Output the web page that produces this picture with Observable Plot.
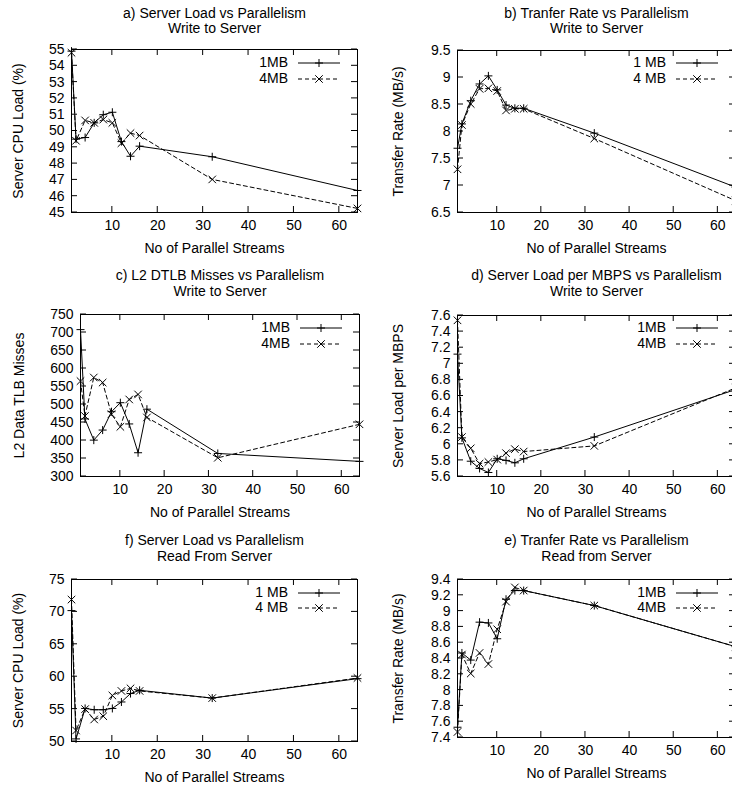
<!DOCTYPE html>
<html><head><meta charset="utf-8">
<script src="https://cdn.jsdelivr.net/npm/d3@7"></script>
<script src="https://cdn.jsdelivr.net/npm/@observablehq/plot@0.6"></script>
<style>
html,body{margin:0;padding:0;background:#fff;}
#fig{position:relative;width:732px;height:788px;overflow:hidden;background:#fff;}
#fig svg{position:absolute;}
</style></head><body><div id="fig"></div>
<script>
// ---- data ----
const streams = [1, 2, 4, 6, 8, 10, 12, 14, 16, 32, 64];
const xTicks = [10, 20, 30, 40, 50, 60];

const loadWrite1MB = [54.9, 49.5, 49.6, 50.5, 51.0, 51.15, 49.35, 48.45, 49.07, 48.42, 46.35];
const loadWrite4MB = [54.8, 49.4, 50.65, 50.5, 50.7, 50.5, 49.25, 49.87, 49.72, 47.03, 45.25];
const loadWriteTicks = [45, 46, 47, 48, 49, 50, 51, 52, 53, 54, 55];

const rateWrite1MB = [7.69, 8.14, 8.57, 8.88, 9.03, 8.77, 8.49, 8.43, 8.43, 7.97, 6.97];
const rateWrite4MB = [7.30, 8.12, 8.51, 8.79, 8.80, 8.75, 8.39, 8.42, 8.42, 7.87, 6.72];
const rateWriteTicks = [6.5, 7, 7.5, 8, 8.5, 9, 9.5];

const dtlbWrite1MB = [708, 460, 401, 429, 480, 505, 446, 366, 487, 364, 342];
const dtlbWrite4MB = [565, 468, 575, 561, 473, 438, 514, 528, 464, 352, 445];
const dtlbWriteTicks = [300, 350, 400, 450, 500, 550, 600, 650, 700, 750];

const perMbps1MB = [7.12, 6.08, 5.79, 5.70, 5.65, 5.82, 5.80, 5.77, 5.82, 6.09, 6.68];
const perMbps4MB = [7.54, 6.09, 5.95, 5.76, 5.78, 5.81, 5.89, 5.94, 5.91, 5.98, 6.70];
const perMbpsTicks = [5.6, 5.8, 6, 6.2, 6.4, 6.6, 6.8, 7, 7.2, 7.4, 7.6];

const loadRead1MB = [70.2, 50.4, 55.1, 54.9, 54.9, 55.1, 56.1, 57.4, 57.9, 56.7, 59.7];
const loadRead4MB = [71.9, 51.7, 55.0, 53.4, 53.9, 57.1, 57.8, 58.2, 57.8, 56.7, 59.8];
const loadReadTicks = [50, 55, 60, 65, 70, 75];

const rateRead1MB = [7.53, 8.47, 8.38, 8.86, 8.85, 8.65, 9.15, 9.26, 9.26, 9.07, 8.55];
const rateRead4MB = [7.47, 8.45, 8.21, 8.47, 8.33, 8.77, 9.12, 9.30, 9.26, 9.07, 8.55];
const rateReadTicks = [7.4, 7.6, 7.8, 8, 8.2, 8.4, 8.6, 8.8, 9, 9.2, 9.4];

const xLabel = "No of Parallel Streams";

// ---- panel layout ----
const panels = [
  {left:0, top:0, width:366, height:262, frame:[71,49,357,212], yDomain:[45,55], yTicks:loadWriteTicks,
   s1:loadWrite1MB, s2:loadWrite4MB, names:["1MB","4MB"],
   title:["a) Server Load vs Parallelism","Write to Server"], titleY:[13,28],
   yLabel:"Server CPU Load (%)", yLabelX:18, legendY:[63,79]},
  {left:366, top:0, width:375, height:262, frame:[457,50,735,212], yDomain:[6.5,9.5], yTicks:rateWriteTicks,
   s1:rateWrite1MB, s2:rateWrite4MB, names:["1 MB","4 MB"],
   title:["b) Tranfer Rate vs Parallelism","Write to Server"], titleY:[13,28],
   yLabel:"Transfer Rate (MB/s)", yLabelX:398, legendY:[63,79]},
  {left:0, top:262, width:366, height:263, frame:[80,314,359,476], yDomain:[300,750], yTicks:dtlbWriteTicks,
   s1:dtlbWrite1MB, s2:dtlbWrite4MB, names:["1MB","4MB"],
   title:["c) L2 DTLB Misses vs Parallelism","Write to Server"], titleY:[275,291],
   yLabel:"L2 Data TLB Misses", yLabelX:19, legendY:[328,344]},
  {left:366, top:262, width:375, height:263, frame:[457,315,735,476], yDomain:[5.6,7.6], yTicks:perMbpsTicks,
   s1:perMbps1MB, s2:perMbps4MB, names:["1MB","4MB"],
   title:["d) Server Load per MBPS vs Parallelism","Write to Server"], titleY:[275,291],
   yLabel:"Server Load per MBPS", yLabelX:398, legendY:[328,344]},
  {left:0, top:525, width:366, height:263, frame:[71,579,357,741], yDomain:[50,75], yTicks:loadReadTicks,
   s1:loadRead1MB, s2:loadRead4MB, names:["1 MB","4 MB"],
   title:["f) Server Load vs Parallelism","Read From Server"], titleY:[540,556],
   yLabel:"Server CPU Load (%)", yLabelX:18, legendY:[593,608]},
  {left:366, top:525, width:375, height:263, frame:[457,579,735,737], yDomain:[7.4,9.4], yTicks:rateReadTicks,
   s1:rateRead1MB, s2:rateRead4MB, names:["1MB","4MB"],
   title:["e) Tranfer Rate vs Parallelism","Read from Server"], titleY:[540,556],
   yLabel:"Transfer Rate (MB/s)", yLabelX:398, legendY:[593,608]}
];

const FONT = "'Liberation Sans', Arial, Helvetica, sans-serif";
const R_PLUS = 2.7, R_TIMES = 3.5, DASH = "4,3", TICK = 6;
const fig = document.getElementById("fig");
const fmt = d => String(+d.toFixed(2));

for (const p of panels) {
  const [fl, ft, fr, fb] = p.frame;
  const mL = fl - p.left, mT = ft - p.top, mR = p.left + p.width - fr, mB = p.top + p.height - fb;
  const rows1 = streams.map((x, i) => ({x, y: p.s1[i]}));
  const rows2 = streams.map((x, i) => ({x, y: p.s2[i]}));
  const txt = {text: d => d, fill: "black", textAnchor: "middle", lineAnchor: "middle"};
  const plot = Plot.plot({
    width: p.width, height: p.height,
    marginLeft: mL, marginTop: mT, marginRight: mR, marginBottom: mB,
    style: {fontFamily: FONT, fontSize: "14px", background: "transparent", color: "black", overflow: "visible"},
    x: {domain: [1, 64]},
    y: {domain: p.yDomain},
    marks: [
      Plot.axisX({ticks: xTicks, tickSize: 0, tickPadding: 8, label: null}),
      Plot.axisY({ticks: p.yTicks, tickSize: 0, tickPadding: 7, label: null, tickFormat: fmt}),
      Plot.frame({stroke: "black", strokeWidth: 1}),
      Plot.line(rows1, {x: "x", y: "y", stroke: "black", strokeWidth: 1}),
      Plot.line(rows2, {x: "x", y: "y", stroke: "black", strokeWidth: 1, strokeDasharray: DASH}),
      Plot.dot(rows1, {x: "x", y: "y", symbol: "plus", r: R_PLUS, stroke: "black", strokeWidth: 1}),
      Plot.dot(rows2, {x: "x", y: "y", symbol: "times", r: R_TIMES, stroke: "black", strokeWidth: 1}),
      Plot.text([p.title[0]], {...txt, frameAnchor: "top", dy: p.titleY[0] - ft}),
      Plot.text([p.title[1]], {...txt, frameAnchor: "top", dy: p.titleY[1] - ft}),
      Plot.text([xLabel], {...txt, frameAnchor: "bottom", dy: 36}),
      Plot.text([p.yLabel], {...txt, frameAnchor: "left", dx: p.yLabelX - fl, rotate: -90})
    ]
  });
  plot.style.left = p.left + "px";
  plot.style.top = p.top + "px";
  fig.appendChild(plot);

  // inward mirrored ticks (gnuplot style), placed with Plot's own scales
  const sx = plot.scale("x"), sy = plot.scale("y");
  const svg = d3.select(plot);
  const g = svg.append("g").attr("stroke", "black").attr("stroke-width", 1);
  const x0 = mL, x1 = p.width - mR, y0 = mT, y1 = p.height - mB;
  for (const t of xTicks) {
    const px = sx.apply(t);
    g.append("line").attr("x1", px).attr("x2", px).attr("y1", y1).attr("y2", y1 - TICK);
    g.append("line").attr("x1", px).attr("x2", px).attr("y1", y0).attr("y2", y0 + TICK);
  }
  for (const t of p.yTicks) {
    const py = sy.apply(t);
    g.append("line").attr("x1", x0).attr("x2", x0 + TICK).attr("y1", py).attr("y2", py);
    g.append("line").attr("x1", x1).attr("x2", x1 - TICK).attr("y1", py).attr("y2", py);
  }

  // legend (top-right, inside the frame)
  const lg = svg.append("g").attr("font-family", FONT).attr("font-size", 14);
  const syms = [d3.symbolPlus, d3.symbolTimes], rs = [R_PLUS, R_TIMES], dashes = [null, DASH];
  p.names.forEach((name, i) => {
    const ly = p.legendY[i] - p.top;
    lg.append("text").attr("x", x1 - 69).attr("y", ly).attr("dy", "0.32em")
      .attr("text-anchor", "end").attr("fill", "black").text(name);
    lg.append("line").attr("x1", x1 - 59).attr("x2", x1 - 17).attr("y1", ly).attr("y2", ly)
      .attr("stroke", "black").attr("stroke-dasharray", dashes[i]);
    lg.append("path").attr("transform", `translate(${x1 - 38},${ly})`)
      .attr("d", d3.symbol(syms[i], Math.PI * rs[i] * rs[i])())
      .attr("fill", "none").attr("stroke", "black");
  });
}
</script></body></html>
